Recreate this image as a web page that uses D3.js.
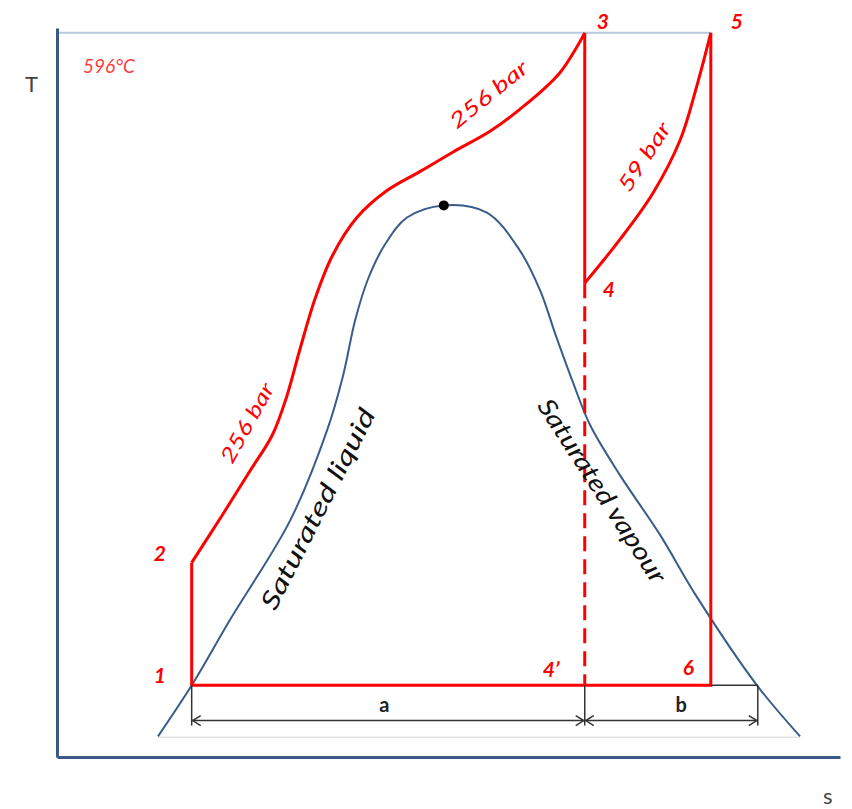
<!DOCTYPE html>
<html>
<head>
<meta charset="utf-8">
<script src="https://cdn.jsdelivr.net/npm/d3@7"></script>
<style>
  html, body { margin: 0; padding: 0; background: #fff; }
  svg { display: block; font-family: Lato, "Open Sans", sans-serif; }
</style>
</head>
<body>
<svg width="852" height="809"></svg>
<script>
//  T-s diagram of a reheat steam cycle (schematic, s in arbitrary units, T in degC)

//  Saturation dome
const domeS = [1.29, 1.72, 2.21, 2.98, 3.45, 3.65, 3.81, 3.97, 4.19, 4.47, 4.94, 5.49, 5.91, 6.17, 6.37, 6.58, 6.81, 7.19, 7.70, 8.17, 8.94, 9.49];
const domeT = [17, 59, 113, 195, 269, 313, 360, 393, 422, 444, 454, 448, 417, 384, 347, 310, 273, 232, 183, 132, 59, 17];
const criticalPoint = [4.94, 454];

//  Heating at 256 bar (2 -> 3)
const heatS = [1.72, 2.11, 2.46, 2.75, 2.94, 3.10, 3.30, 3.52, 3.83, 4.21, 4.64, 5.06, 5.53, 5.91, 6.42, 6.74];
const heatT = [160, 199, 235, 265, 298, 335, 378, 413, 444, 466, 482, 498, 515, 533, 563, 596];

//  Reheating at 59 bar (4 -> 5)
const reheatS = [6.74, 7.19, 7.61, 7.96, 8.17, 8.35];
const reheatT = [390, 426, 464, 508, 552, 596];

//  State points
const stateLabels = ['1', '2', '3', '4', '5', '6', '4\u2019'];
const stateS = [1.72, 1.72, 6.74, 6.74, 8.35, 8.35, 6.74];
const stateT = [59, 160, 596, 390, 596, 59, 59];

//  Dimensions a and b
const dimLabels = ['a', 'b'];
const dimS = [1.72, 6.74, 8.95];
const dimT = 30;

const maxTemp = 596;

const svg = d3.select('svg');

const x = d3.scaleLinear().domain([0, 10]).range([57, 840]);
const y = d3.scaleLinear().domain([0, 600]).range([757, 28]);

const pt = (s, t) => [x(s), y(t)];
const smooth = d3.line().curve(d3.curveCatmullRom.alpha(0.5));
const straight = d3.line();

const RED = '#ff0000';
const BLUE = '#385d8a';
const DARK = '#333333';

const guides = svg.append('g').attr('id', 'guides');
const dome = svg.append('g').attr('id', 'dome');
const cycle = svg.append('g').attr('id', 'cycle');
const labels = svg.append('g').attr('id', 'labels');

//======================================================
//  Axes
//======================================================
//  max temperature guide line (596 C) from the axis to point 5
guides.append('line')
    .attr('x1', x(0)).attr('x2', x(stateS[4]))
    .attr('y1', y(maxTemp)).attr('y2', y(maxTemp))
    .attr('stroke', '#b9cadf')
    .attr('stroke-width', 2);

//  faint base line under the dome
guides.append('line')
    .attr('x1', x(domeS[0])).attr('x2', x(domeS[domeS.length - 1]))
    .attr('y1', y(domeT[0]) + 1).attr('y2', y(domeT[0]) + 1)
    .attr('stroke', '#e2e2e2')
    .attr('stroke-width', 1.5);

const yAxis = svg.append('g')
    .attr('transform', `translate(${x(0)},0)`)
    .call(d3.axisLeft(y).ticks(0).tickSizeOuter(0));
const xAxis = svg.append('g')
    .attr('transform', `translate(0,${y(0)})`)
    .call(d3.axisBottom(x).ticks(0).tickSizeOuter(0));
[yAxis, xAxis].forEach(a => a.select('.domain')
    .attr('stroke', '#3b5787')
    .attr('stroke-width', 3));

svg.append('text')
    .attr('x', 25).attr('y', 92)
    .attr('font-size', 22)
    .attr('fill', '#444')
    .text('T');
svg.append('text')
    .attr('x', 823).attr('y', 804)
    .attr('font-size', 22)
    .attr('fill', '#444')
    .text('s');

//======================================================
//  Saturation dome
//======================================================
dome.append('path')
    .attr('d', smooth(domeS.map((s, i) => pt(s, domeT[i]))))
    .attr('fill', 'none')
    .attr('stroke', BLUE)
    .attr('stroke-width', 2);

dome.append('circle')
    .attr('cx', x(criticalPoint[0]))
    .attr('cy', y(criticalPoint[1]))
    .attr('r', 5)
    .attr('fill', '#000');

//======================================================
//  Dimension lines a, b
//======================================================
const dims = svg.append('g').attr('id', 'dims')
    .attr('stroke', DARK).attr('stroke-width', 1.5).attr('fill', 'none');

//  thin line from 6 to the vapour line
dims.append('line')
    .attr('x1', x(stateS[5])).attr('x2', x(dimS[2]))
    .attr('y1', y(stateT[5])).attr('y2', y(stateT[5]));

dimS.forEach(s => {
    dims.append('line')
        .attr('x1', x(s)).attr('x2', x(s))
        .attr('y1', y(stateT[0])).attr('y2', y(dimT) + 5);
});

const dimLabelShift = [-4, 10];
for (let i = 0; i < dimLabels.length; i++) {
    const x0 = x(dimS[i]), x1 = x(dimS[i + 1]), yy = y(dimT);
    dims.append('line')
        .attr('x1', x0).attr('x2', x1)
        .attr('y1', yy).attr('y2', yy);
    dims.append('path')
        .attr('d', `M${x0 + 9},${yy - 5}L${x0 + 1},${yy}L${x0 + 9},${yy + 5}`);
    dims.append('path')
        .attr('d', `M${x1 - 9},${yy - 5}L${x1 - 1},${yy}L${x1 - 9},${yy + 5}`);
    svg.append('text')
        .attr('x', (x0 + x1) / 2 + dimLabelShift[i])
        .attr('y', yy - 9)
        .attr('text-anchor', 'middle')
        .attr('font-size', 20)
        .attr('font-weight', 'bold')
        .attr('fill', '#222')
        .text(dimLabels[i]);
}

//======================================================
//  Cycle
//======================================================
//  1 -> 2 pump
cycle.append('path')
    .attr('d', straight([pt(stateS[0], stateT[0]), pt(stateS[1], stateT[1])]));
//  2 -> 3 boiler, 256 bar
cycle.append('path')
    .attr('d', smooth(heatS.map((s, i) => pt(s, heatT[i]))));
//  3 -> 4 HP turbine
cycle.append('path')
    .attr('d', straight([pt(stateS[2], stateT[2]), pt(stateS[3], stateT[3])]));
//  4 -> 5 reheat, 59 bar
cycle.append('path')
    .attr('d', smooth(reheatS.map((s, i) => pt(s, reheatT[i]))));
//  5 -> 6 -> 1 LP turbine + condenser
cycle.append('path')
    .attr('d', straight([pt(stateS[4], stateT[4]), pt(stateS[5], stateT[5]), pt(stateS[0], stateT[0])]));
//  4 -> 4' dashed (isentropic without reheat)
cycle.append('path')
    .attr('d', straight([pt(stateS[3], stateT[3]), pt(stateS[6], stateT[6])]))
    .attr('stroke-dasharray', '15,8');

cycle.selectAll('path')
    .attr('fill', 'none')
    .attr('stroke', RED)
    .attr('stroke-width', 3)
    .attr('stroke-linejoin', 'miter');

//======================================================
//  Labels
//======================================================
const labelOffset = [[-38, -2], [-38, -2], [12, -4], [18, 14], [20, -4], [-28, -10], [-42, -8]];
stateLabels.forEach((l, i) => {
    labels.append('text')
        .attr('x', x(stateS[i]) + labelOffset[i][0])
        .attr('y', y(stateT[i]) + labelOffset[i][1])
        .attr('font-size', 21)
        .attr('font-weight', 'bold')
        .attr('font-style', 'italic')
        .attr('fill', RED)
        .text(l);
});

labels.append('text')
    .attr('x', 83).attr('y', 73)
    .attr('font-size', 19)
    .attr('font-style', 'italic')
    .attr('fill', '#ff3b3b')
    .text('596°C');

function rotLabel(text, cx, cy, angle, size, color, len) {
    labels.append('text')
        .attr('transform', `translate(${cx},${cy}) rotate(${angle})`)
        .attr('text-anchor', 'middle')
        .attr('dominant-baseline', 'middle')
        .attr('font-size', size)
        .attr('font-style', 'italic')
        .attr('fill', color)
        .attr('textLength', len)
        .attr('lengthAdjust', 'spacingAndGlyphs')
        .text(text);
}

rotLabel('256 bar', 249, 424, -61, 21, RED, 88);
rotLabel('256 bar', 490, 96, -39, 21, RED, 94);
rotLabel('59 bar', 646, 158, -57, 21, RED, 78);
rotLabel('Saturated liquid', 320, 510, -63, 25, '#111', 222);
rotLabel('Saturated vapour', 600, 492, 57, 25, '#111', 214);
</script>
</body>
</html>
